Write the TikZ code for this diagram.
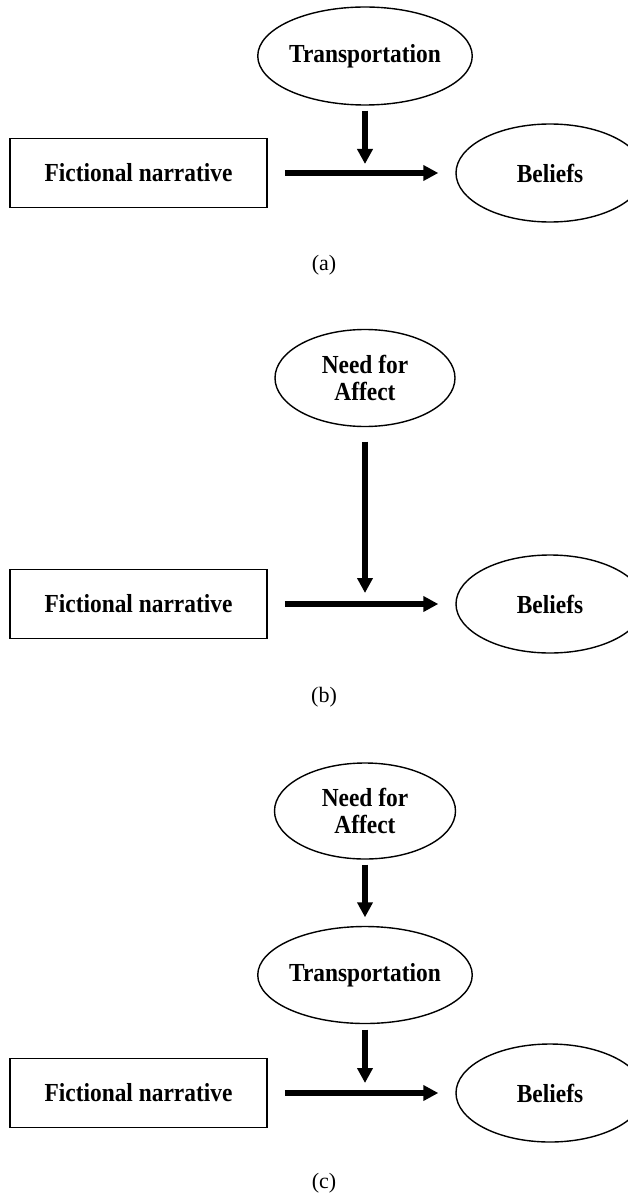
\documentclass[tikz,border=0pt]{standalone}
\usepackage{fontspec}
\setmainfont{Liberation Serif}
\newfontfamily\nodefont[FakeStretch=0.9]{Liberation Serif}
\usetikzlibrary{arrows.meta,shapes.geometric}

\begin{document}
\begin{tikzpicture}[
  x=1pt, y=-1pt,
  font=\nodefont\bfseries\fontsize{26}{27}\selectfont,
  factor/.style={draw, ellipse, line width=1.4pt, inner sep=0pt, align=center},
  source/.style={draw, rectangle, line width=1.8pt, minimum width=257pt, minimum height=69pt, inner sep=0pt},
  effect/.style={-{Triangle[length=15pt, width=15pt]}, line width=5.2pt},
  caption/.style={font=\mdseries\fontsize{22}{24}\selectfont}
]
\useasboundingbox (0,0) rectangle (628,1193);

% (a)
\node[factor, minimum width=192pt, minimum height=98pt] (tra1) at (365,56) {Transportation};
\node[source] (nar1) at (138.5,173) {Fictional narrative};
\node[factor, minimum width=188pt, minimum height=98pt] (bel1) at (550,173) {Beliefs};
\coordinate (ja) at (tra1 |- nar1);
\draw[effect, shorten <=17pt, shorten >=17pt] (nar1) -- (bel1);
\draw[effect, shorten <=5pt, shorten >=9pt] (tra1) -- (ja);
\node[caption] (capa) at (324,265) {(a)};

% (b)
\node[factor, minimum width=180pt, minimum height=97pt] (nfa2) at (365,378) {Need for\\Affect};
\node[source] (nar2) at (138.5,604) {Fictional narrative};
\node[factor, minimum width=188pt, minimum height=98pt] (bel2) at (550,604) {Beliefs};
\coordinate (jb) at (nfa2 |- nar2);
\draw[effect, shorten <=17pt, shorten >=17pt] (nar2) -- (bel2);
\draw[effect, shorten <=14.5pt, shorten >=11pt] (nfa2) -- (jb);
\node[caption] (capb) at (324,697) {(b)};

% (c)
\node[factor, minimum width=181pt, minimum height=96pt] (nfa3) at (365,811) {Need for\\Affect};
\node[factor, minimum width=183pt, minimum height=97pt] (tra3) at (365,975) {Transportation};
\node[source] (nar3) at (138.5,1093) {Fictional narrative};
\node[factor, minimum width=188pt, minimum height=98pt] (bel3) at (550,1093) {Beliefs};
\coordinate (jc) at (tra3 |- nar3);
\draw[effect, shorten <=5pt, shorten >=8.5pt] (nfa3) -- (tra3);
\draw[effect, shorten <=17pt, shorten >=17pt] (nar3) -- (bel3);
\draw[effect, shorten <=5.5pt, shorten >=10pt] (tra3) -- (jc);
\node[caption] (capc) at (324,1183) {(c)};

\end{tikzpicture}
\end{document}
